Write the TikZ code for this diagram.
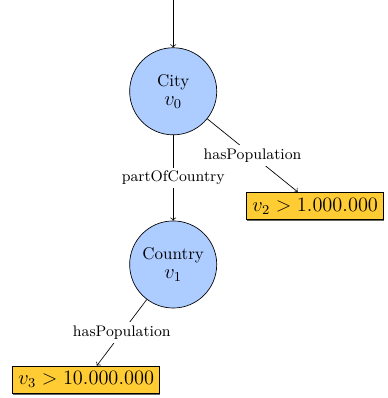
\documentclass[tikz,border=0pt]{standalone}
\usetikzlibrary{shadows}

\definecolor{varblue}{RGB}{173,204,255}
\definecolor{valyellow}{RGB}{255,204,51}

\begin{document}
\begin{tikzpicture}[
    var/.style={circle, draw, fill=varblue, minimum size=1.8cm, inner sep=0pt, align=center},
    value/.style={rectangle, draw, fill=valyellow, font=\large,
        drop shadow={shadow xshift=0.4pt, shadow yshift=-0.8pt, fill=black!60, opacity=1}},
    lbl/.style={fill=white, font=\small, inner sep=2pt}
]

    % picture frame
    \useasboundingbox (0,0) rectangle (8.02,-8.227);

    % variables
    \coordinate (in) at (3.58,0);
    \node [var] (city) at (3.58,-1.887) {City\\[-1pt]{\large $v_0$}};
    \node [var] (country) at (3.58,-5.467) {Country\\[-1pt]{\large $v_1$}};

    % values
    \node [value] (pop2) at (6.515,-4.258) {$v_2 > 1.000.000$};
    \node [value] (pop3) at (1.782,-7.85) {$v_3 > 10.000.000$};

    % relations
    \draw [->] (in) -- (city);
    \draw [->] (city) -- node [lbl] {partOfCountry} (country);
    \draw [->] (city) -- node [lbl] {hasPopulation} (pop2);
    \draw [->] (country) -- node [lbl] {hasPopulation} (pop3);

\end{tikzpicture}
\end{document}
